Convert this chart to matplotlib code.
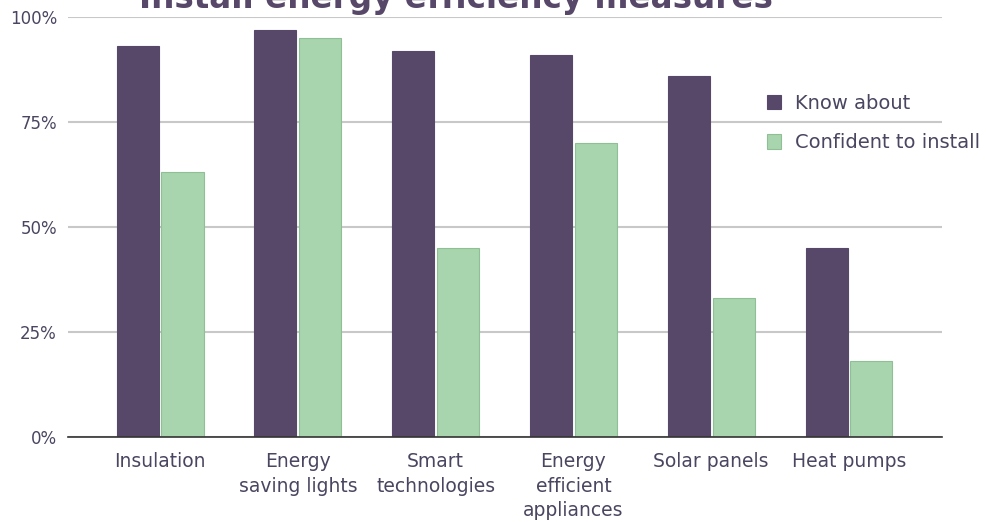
import numpy as np
import matplotlib.pyplot as plt
from matplotlib.ticker import PercentFormatter

categories = ["Insulation", "Energy\nsaving lights", "Smart\ntechnologies",
              "Energy\nefficient\nappliances", "Solar panels", "Heat pumps"]
know_about = [93, 97, 92, 91, 86, 45]
confident = [63, 95, 45, 70, 33, 18]

purple = "#574769"
green = "#a8d5ae"
text_col = "#4a4560"

plt.rcParams["font.family"] = ["DejaVu Sans"]

fig = plt.figure(figsize=(9.86, 5.22), dpi=100)
ax = fig.add_axes([68 / 986, 1 - 437 / 522, (942 - 68) / 986, (437 - 17) / 522])

x = np.arange(len(categories))
w = 0.305
off = 0.163
ax.bar(x - off, know_about, w, color=purple, edgecolor=purple, linewidth=0.8,
       label="Know about", zorder=3)
ax.bar(x + off, confident, w, color=green, edgecolor="#8fbf95", linewidth=0.8,
       label="Confident to install", zorder=3)

ax.set_xlim(-0.668, 5.675)
ax.set_ylim(0, 100)
ax.set_yticks([0, 25, 50, 75, 100])
ax.yaxis.set_major_formatter(PercentFormatter(decimals=0))
ax.set_xticks(x)
ax.set_xticklabels(categories, fontsize=13.5, color=text_col, linespacing=1.35)
ax.tick_params(axis="y", length=0, pad=8, labelsize=12, labelcolor=text_col)
ax.tick_params(axis="x", length=0, pad=11)

ax.grid(axis="y", color="#c8c8c8", linewidth=1.5, zorder=0)
for s in ["top", "right", "left"]:
    ax.spines[s].set_visible(False)
ax.spines["bottom"].set_color("#333333")
ax.spines["bottom"].set_linewidth(1.2)
ax.spines["bottom"].set_zorder(4)

leg = ax.legend(loc="upper left", bbox_to_anchor=(759 / 986, 1 - 86 / 522),
                bbox_transform=fig.transFigure, frameon=False, fontsize=14,
                handlelength=0.75, handleheight=0.75, handletextpad=0.7,
                labelspacing=1.05, borderaxespad=0)
for t in leg.get_texts():
    t.set_color(text_col)

fig.text(456 / 986, 1 - 8 / 522, "Install energy efficiency measures",
         ha="center", va="baseline", fontsize=23.5, fontweight="bold", color=purple)

fig.savefig("out.png", dpi=100)
